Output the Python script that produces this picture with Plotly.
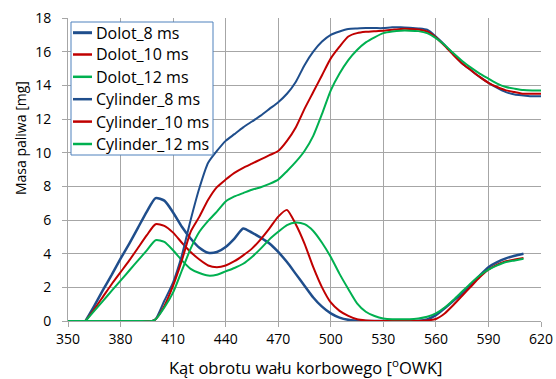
import plotly.graph_objects as go

# Dolot (inlet) series
x_dolot = [360, 365, 370, 375, 380, 385, 390, 395, 400, 405, 410, 415, 420, 425, 430, 435, 440, 445, 450,
           455, 460, 465, 470, 475, 480, 485, 490, 495, 500, 505, 510, 515, 520, 525, 530, 535, 540, 545,
           550, 555, 560, 565, 570, 575, 580, 585, 590, 595, 600, 605, 610]
dolot_8 = [0, 0.9, 1.85, 2.75, 3.7, 4.6, 5.55, 6.5, 7.3, 7.15, 6.45, 5.6, 4.9, 4.35, 4.05, 4.1, 4.4, 4.9, 5.5,
           5.25, 4.95, 4.6, 4.1, 3.5, 2.8, 2.1, 1.4, 0.85, 0.45, 0.2, 0.07, 0.02, 0, 0, 0, 0, 0, 0,
           0.02, 0.1, 0.35, 0.75, 1.2, 1.65, 2.15, 2.7, 3.2, 3.5, 3.72, 3.88, 4.0]
dolot_10 = [0, 0.7, 1.45, 2.2, 2.9, 3.6, 4.35, 5.1, 5.75, 5.65, 5.25, 4.65, 4.1, 3.65, 3.3, 3.2, 3.3, 3.55, 3.9,
            4.3, 4.85, 5.5, 6.2, 6.6, 5.75, 4.6, 3.2, 2.0, 1.1, 0.6, 0.3, 0.1, 0.03, 0, 0, 0, 0, 0,
            0, 0.03, 0.12, 0.45, 0.95, 1.5, 2.05, 2.6, 3.05, 3.35, 3.55, 3.65, 3.75]
dolot_12 = [0, 0.6, 1.2, 1.8, 2.4, 3.0, 3.6, 4.2, 4.8, 4.7, 4.2, 3.6, 3.1, 2.85, 2.7, 2.75, 2.95, 3.15, 3.4,
            3.8, 4.3, 4.85, 5.3, 5.7, 5.85, 5.75, 5.35, 4.65, 3.8, 2.8, 1.9, 1.05, 0.55, 0.3, 0.15, 0.1, 0.1, 0.1,
            0.15, 0.25, 0.45, 0.8, 1.25, 1.75, 2.25, 2.7, 3.05, 3.3, 3.5, 3.6, 3.7]

# Cylinder series
x_cyl = [350, 360, 370, 380, 390, 398, 400, 405, 410, 415, 420, 425, 430, 435, 440, 445, 450, 455, 460, 465,
         470, 475, 480, 485, 490, 495, 500, 505, 510, 515, 520, 525, 530, 535, 540, 545, 550, 555, 560,
         565, 570, 575, 580, 585, 590, 595, 600, 605, 610, 615, 620]
cyl_8 = [0, 0, 0, 0, 0, 0, 0.1, 1.2, 2.3, 3.9, 6.0, 7.9, 9.4, 10.1, 10.7, 11.1, 11.5, 11.85, 12.2, 12.6,
         13.0, 13.5, 14.2, 15.2, 16.0, 16.6, 17.0, 17.2, 17.35, 17.38, 17.4, 17.4, 17.4, 17.45, 17.45, 17.42, 17.38, 17.3, 16.9,
         16.4, 15.85, 15.3, 14.9, 14.5, 14.15, 13.85, 13.6, 13.45, 13.4, 13.35, 13.35]
cyl_10 = [0, 0, 0, 0, 0, 0, 0.1, 0.9, 2.1, 3.6, 5.3, 6.2, 7.2, 7.95, 8.4, 8.8, 9.1, 9.35, 9.6, 9.85,
          10.1, 10.7, 11.5, 12.6, 13.6, 14.6, 15.6, 16.3, 16.9, 17.1, 17.18, 17.22, 17.25, 17.3, 17.35, 17.35, 17.32, 17.2, 16.85,
          16.35, 15.8, 15.3, 14.9, 14.5, 14.15, 13.9, 13.7, 13.6, 13.5, 13.5, 13.5]
cyl_12 = [0, 0, 0, 0, 0, 0, 0.1, 0.8, 1.7, 3.0, 4.3, 5.3, 5.95, 6.5, 7.1, 7.4, 7.6, 7.8, 7.95, 8.15,
          8.4, 8.9, 9.45, 10.1, 11.0, 12.3, 13.7, 14.7, 15.5, 16.1, 16.55, 16.85, 17.1, 17.2, 17.25, 17.25, 17.22, 17.1, 16.8,
          16.4, 15.9, 15.45, 15.05, 14.7, 14.4, 14.1, 13.9, 13.8, 13.72, 13.7, 13.7]

names = ["Dolot_8 ms", "Dolot_10 ms", "Dolot_12 ms", "Cylinder_8 ms", "Cylinder_10 ms", "Cylinder_12 ms"]
colors = ["#1F4E8C", "#C00000", "#00B050", "#1F4E8C", "#C00000", "#00B050"]
widths = [2.5, 2, 2, 2, 2, 2]

x_ticks = [350, 380, 410, 440, 470, 500, 530, 560, 590, 620]
y_ticks = [0, 2, 4, 6, 8, 10, 12, 14, 16, 18]

fig = go.Figure()
series = [(x_dolot, dolot_8), (x_dolot, dolot_10), (x_dolot, dolot_12),
          (x_cyl, cyl_8), (x_cyl, cyl_10), (x_cyl, cyl_12)]
for (xs, ys), n, c, w in zip(series, names, colors, widths):
    fig.add_trace(go.Scatter(x=xs, y=ys, name=n, mode="lines", showlegend=False,
                             line=dict(color=c, width=w, shape="spline", smoothing=0.6)))

# Legend drawn inside the plot area (paper coordinates)
W, H = 556, 379
ml, mr, mt, mb = 68, 15, 18, 58
pw, ph = W - ml - mr, H - mt - mb


def px_x(p):
    return (p - ml) / pw


def px_y(p):
    return (H - mb - p) / ph


shapes = [dict(type="rect", xref="paper", yref="paper",
               x0=px_x(71), x1=px_x(213), y0=px_y(155), y1=px_y(22),
               line=dict(color="#4F81BD", width=1), fillcolor="white", layer="above")]
annotations = []
row_y = [32.7, 54.5, 76.8, 99.2, 121.6, 144.0]
for ry, n, c, w in zip(row_y, names, colors, widths):
    shapes.append(dict(type="line", xref="paper", yref="paper",
                       x0=px_x(73), x1=px_x(92), y0=px_y(ry), y1=px_y(ry),
                       line=dict(color=c, width=w + 0.5), layer="above"))
    annotations.append(dict(xref="paper", yref="paper", x=px_x(94), y=px_y(ry),
                            xanchor="left", yanchor="middle", showarrow=False,
                            text=n, font=dict(size=16, color="black")))

# Axis titles
annotations.append(dict(xref="paper", yref="paper", x=px_x(305), y=px_y(367),
                        xanchor="center", yanchor="middle", showarrow=False,
                        text="Kąt obrotu wału korbowego [<sup>o</sup>OWK]",
                        font=dict(size=16.5, color="black")))
annotations.append(dict(xref="paper", yref="paper", x=px_x(20), y=px_y(138),
                        xanchor="center", yanchor="middle", showarrow=False, textangle=-90,
                        text="Masa paliwa [mg]", font=dict(size=14, color="black")))

font_family = "Open Sans, Liberation Sans, sans-serif"
fig.update_layout(
    width=W, height=H,
    margin=dict(l=ml, r=mr, t=mt, b=mb),
    paper_bgcolor="white", plot_bgcolor="white",
    font=dict(family=font_family, size=14, color="black"),
    showlegend=False,
    shapes=shapes, annotations=annotations,
    xaxis=dict(range=[350, 620], tickvals=x_ticks, ticktext=[str(v) for v in x_ticks],
               showgrid=True, gridcolor="#A6A6A6", gridwidth=1, zeroline=False,
               showline=True, linecolor="#A6A6A6", ticks="outside", ticklen=5, tickcolor="#A6A6A6",
               tickfont=dict(size=14), automargin=False),
    yaxis=dict(range=[0, 18], tickvals=y_ticks, ticktext=[str(v) for v in y_ticks],
               showgrid=True, gridcolor="#A6A6A6", gridwidth=1, zeroline=False,
               showline=True, linecolor="#A6A6A6", ticks="outside", ticklen=5, tickcolor="#A6A6A6",
               tickfont=dict(size=14), ticklabelstandoff=8, automargin=False),
)

fig.write_html("out.html", config={"displayModeBar": False},
               post_script="document.body.style.margin='0';")
